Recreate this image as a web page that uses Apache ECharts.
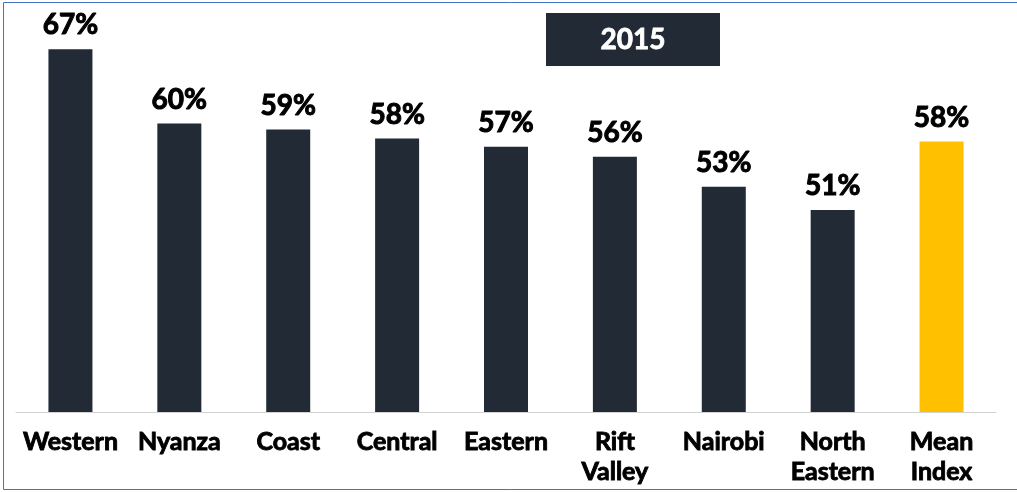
<!DOCTYPE html>
<html>
<head>
<meta charset="utf-8">
<script src="https://cdn.jsdelivr.net/npm/echarts@6/dist/echarts.min.js"></script>
<style>
  html, body { margin: 0; padding: 0; background: #fff; }
  #main { width: 1017px; height: 492px; }
</style>
</head>
<body>
<div id="main"></div>
<script>
// regions and their index values (percent; labels show rounded)
const regions = ["Western", "Nyanza", "Coast", "Central", "Eastern", "Rift\nValley", "Nairobi", "North\nEastern", "Mean\nIndex"];
const values = [67.1, 59.7, 59.1, 58.2, 57.4, 56.4, 53.4, 51.1, 57.9];
const yearLabel = "2015";

const dark = "#222a35";
const gold = "#ffc000";
const font = "Lato, 'Open Sans', sans-serif";

var myChart = echarts.init(document.getElementById("main"));

var option = {
  animation: false,
  grid: { left: 16, right: 21, top: 20, bottom: 80 },
  xAxis: {
    type: "category",
    data: regions,
    axisLine: { lineStyle: { color: "#d3d3d3", width: 1 } },
    axisTick: { show: false },
    axisLabel: {
      interval: 0,
      margin: 15,
      color: "#000",
      fontFamily: font,
      fontWeight: "bold",
      fontSize: 25,
      lineHeight: 30,
      // fake heavier weight
      textBorderColor: "#000",
      textBorderWidth: 0.9,
    },
  },
  yAxis: {
    type: "value",
    min: 31,
    max: 70,
    show: false,
    splitLine: { show: false },
  },
  series: [
    {
      type: "bar",
      barWidth: 44,
      data: values.map(function (v, i) {
        return {
          value: v,
          itemStyle: { color: i === values.length - 1 ? gold : dark },
        };
      }),
      label: {
        show: true,
        position: "top",
        distance: 10,
        color: "#000",
        fontFamily: font,
        fontWeight: "bold",
        fontSize: 28,
        textBorderColor: "#000",
        textBorderWidth: 1,
        formatter: function (p) {
          return Math.round(p.value) + "%";
        },
      },
    },
  ],
  graphic: [
    {
      type: "rect",
      silent: true,
      shape: { x: 3.5, y: 2.5, width: 1100, height: 487 },
      style: { fill: "none", stroke: "#4472c4", lineWidth: 1 },
    },
    {
      type: "rect",
      shape: { x: 546, y: 13, width: 174, height: 53 },
      style: { fill: dark },
    },
    {
      type: "text",
      x: 633,
      y: 39.5,
      style: {
        text: yearLabel,
        fill: "#fff",
        font: "bold 28px " + font,
        stroke: "#fff",
        lineWidth: 0.8,
        align: "center",
        verticalAlign: "middle",
      },
    },
  ],
};

myChart.setOption(option);
</script>
</body>
</html>
